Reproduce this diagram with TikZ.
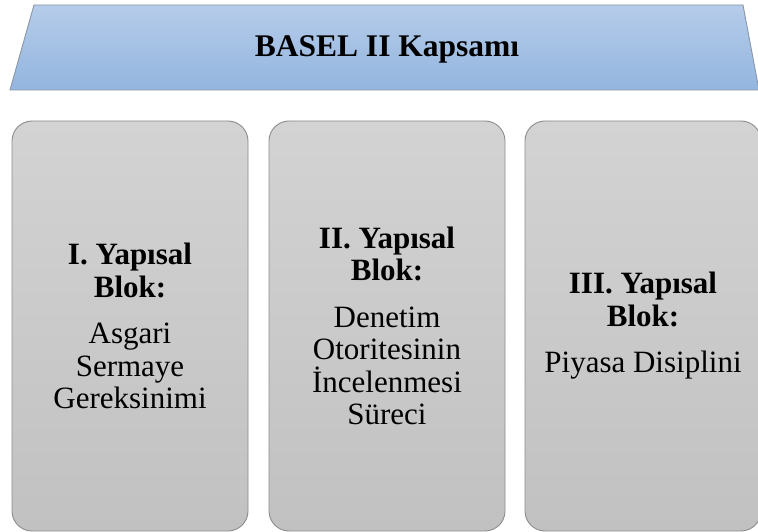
\documentclass[tikz,border=0pt]{standalone}
\usepackage{fontspec}
\setmainfont{Liberation Serif}
\begin{document}
\begin{tikzpicture}[x=1pt,y=-1pt,
  banner/.style={top color=bannertop,bottom color=bannerbot,draw=bannerline,line width=0.9pt},
  block/.style={rectangle,rounded corners=20pt,top color=blocktop,bottom color=blockbot,
    draw=blockline,line width=0.9pt,minimum width=236pt,minimum height=410pt,
    align=center,font=\fontsize{31}{32.5}\selectfont,inner sep=0pt}]
\definecolor{bannertop}{HTML}{B5CCE9}
\definecolor{bannerbot}{HTML}{93B5DF}
\definecolor{bannerline}{HTML}{8A96A6}
\definecolor{blocktop}{HTML}{D3D3D3}
\definecolor{blockbot}{HTML}{C1C1C1}
\definecolor{blockline}{HTML}{8C8C8C}
\clip (0,0) rectangle (758,532);
\fill[white] (0,0) rectangle (758,532);
% heading banner
\shade[banner] (34,5) -- (743,5) -- (759,90) -- (10,90) -- cycle;
\node[font=\fontsize{31.5}{34}\selectfont\bfseries,anchor=base,inner sep=0pt] (title) at (387,57) {BASEL II Kapsamı};
% three structural blocks
\node[block] (b1) at (130,326) {\textbf{I. Yapısal}\\\textbf{Blok:}\\[14pt]Asgari\\Sermaye\\Gereksinimi};
\node[block] (b2) at (387,326) {\textbf{II. Yapısal}\\\textbf{Blok:}\\[14pt]Denetim\\Otoritesinin\\İncelenmesi\\Süreci};
\node[block] (b3) at (643,326) {\textbf{III. Yapısal}\\\textbf{Blok:}\\[14pt]Piyasa Disiplini};
\end{tikzpicture}
\end{document}
